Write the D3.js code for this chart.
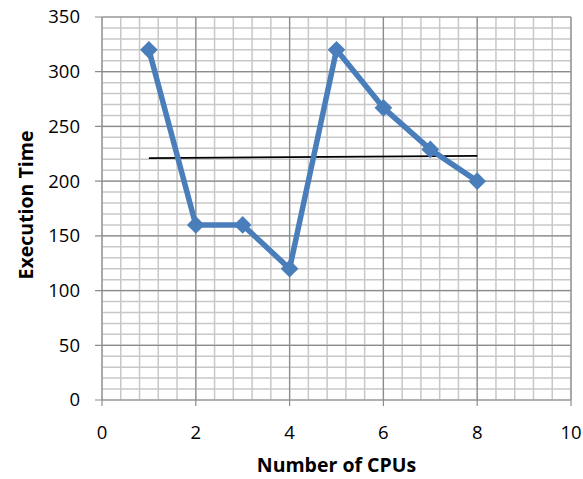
<!DOCTYPE html>
<html>
<head>
<meta charset="utf-8">
<script src="https://cdn.jsdelivr.net/npm/d3@7"></script>
<style>
  body { margin: 0; background: #fff; }
  text { font-family: "Open Sans", "Liberation Sans", sans-serif; fill: #000; }
</style>
</head>
<body>
<div id="chart"></div>
<script>
// 数据
var cpus = [1, 2, 3, 4, 5, 6, 7, 8];
var execTime = [320, 160, 160, 120, 320, 267, 229, 200];
var trendX = [1, 8];
var trendY = [221, 223];
var xTicks = [0, 2, 4, 6, 8, 10];
var yTicks = [0, 50, 100, 150, 200, 250, 300, 350];

var margin = { top: 17, right: 12, bottom: 79, left: 102 };
var width = 583 - margin.left - margin.right;
var height = 479 - margin.top - margin.bottom;

var svg = d3.select("#chart").append("svg")
    .attr("width", 583)
    .attr("height", 479)
    .append("g")
    .attr("transform", "translate(" + margin.left + "," + margin.top + ")");

var x = d3.scaleLinear().domain([0, 10]).range([0, width]);
var y = d3.scaleLinear().domain([0, 350]).range([height, 0]);

// 次网格线
svg.append("g").selectAll("line")
    .data(d3.range(0, 10.01, 0.4))
    .enter().append("line")
    .attr("x1", d => x(d)).attr("x2", d => x(d))
    .attr("y1", 0).attr("y2", height)
    .attr("stroke", "#c8c8c8").attr("stroke-width", 1.5);
svg.append("g").selectAll("line")
    .data(d3.range(0, 350.01, 10))
    .enter().append("line")
    .attr("x1", 0).attr("x2", width)
    .attr("y1", d => y(d)).attr("y2", d => y(d))
    .attr("stroke", "#c8c8c8").attr("stroke-width", 1.5);

// 主网格线
svg.append("g").selectAll("line")
    .data(xTicks)
    .enter().append("line")
    .attr("x1", d => x(d)).attr("x2", d => x(d))
    .attr("y1", 0).attr("y2", height + 6)
    .attr("stroke", "#8c8c8c").attr("stroke-width", 1.2);
svg.append("g").selectAll("line")
    .data(yTicks)
    .enter().append("line")
    .attr("x1", -7).attr("x2", width)
    .attr("y1", d => y(d)).attr("y2", d => y(d))
    .attr("stroke", "#8c8c8c").attr("stroke-width", 1.2);

// 坐标轴标签
svg.append("g").selectAll("text")
    .data(yTicks)
    .enter().append("text")
    .attr("x", -22).attr("y", d => y(d))
    .attr("dy", "0.35em")
    .attr("text-anchor", "end")
    .style("font-size", "18.5px")
    .text(d => d);
svg.append("g").selectAll("text")
    .data(xTicks)
    .enter().append("text")
    .attr("x", d => x(d)).attr("y", height + 39)
    .attr("text-anchor", "middle")
    .style("font-size", "18.5px")
    .text(d => d);

svg.append("text")
    .attr("transform", "rotate(-90)")
    .attr("x", -188).attr("y", -69)
    .attr("text-anchor", "middle")
    .style("font-size", "19.5px").style("font-weight", "bold")
    .text("Execution Time");
svg.append("text")
    .attr("x", width / 2).attr("y", height + 72)
    .attr("text-anchor", "middle")
    .style("font-size", "19.5px").style("font-weight", "bold")
    .text("Number of CPUs");

// 趋势线
svg.append("line")
    .attr("x1", x(trendX[0])).attr("y1", y(trendY[0]))
    .attr("x2", x(trendX[1])).attr("y2", y(trendY[1]))
    .attr("stroke", "#000").attr("stroke-width", 1.8);

// 数据线
var data = cpus.map((c, i) => ({ x: c, y: execTime[i] }));
var line = d3.line().x(d => x(d.x)).y(d => y(d.y));
svg.append("path")
    .datum(data)
    .attr("fill", "none")
    .attr("stroke", "#4a7ebb")
    .attr("stroke-width", 5.5)
    .attr("stroke-linejoin", "round")
    .attr("d", line);

svg.selectAll(".dot")
    .data(data)
    .enter().append("path")
    .attr("class", "dot")
    .attr("transform", d => "translate(" + x(d.x) + "," + y(d.y) + ")")
    .attr("d", d3.symbol().type(d3.symbolDiamond2).size(200))
    .attr("fill", "#4a7ebb");
</script>
</body>
</html>
